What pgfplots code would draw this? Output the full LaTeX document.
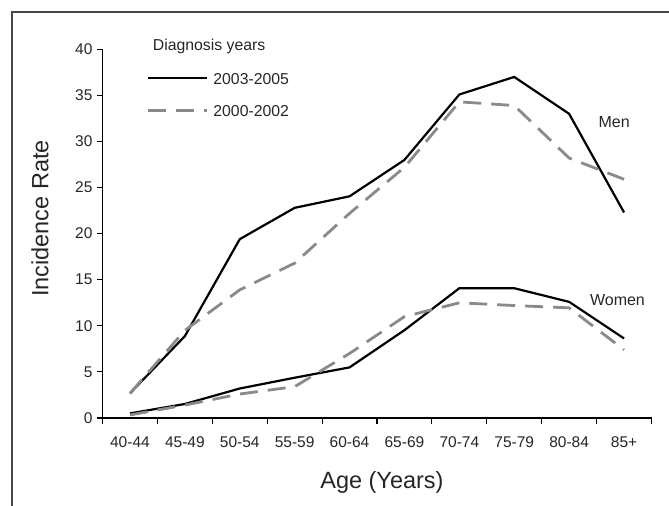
\documentclass[border=0pt]{standalone}
\usepackage{pgfplots}
\pgfplotsset{compat=1.18}
\usepackage{fontspec}
\setmainfont{Liberation Sans}
\definecolor{dashgray}{HTML}{8A8A8A}
\definecolor{framegray}{HTML}{474747}
\begin{document}
\begin{tikzpicture}
\useasboundingbox (-102.5bp,-88bp) rectangle (566.5bp,418bp);
\draw[line width=1.1bp, framegray] (-90.5bp,-88bp) -- (-90.5bp,406bp) -- (566.5bp,406bp);
\begin{axis}[
    scale only axis,
    width=549bp, height=368.7bp,
    xmin=0, xmax=10,
    ymin=0, ymax=40,
    clip=false,
    axis lines*=left,
    axis line style={line width=1.3bp},
    tick style={line width=1.1bp, black},
    tick align=outside,
    major tick length=5.5bp,
    xtick={0,...,10},
    x tick label as interval,
    xticklabels={40-44,45-49,50-54,55-59,60-64,65-69,70-74,75-79,80-84,85+},
    ytick={0,5,...,40},
    /pgf/number format/assume math mode=true,
    ticklabel style={font=\fontsize{15.5bp}{18bp}\selectfont, text=black!85},
    xticklabel style={yshift=-10bp},
    yticklabel style={xshift=-1bp},
    xlabel={Age (Years)},
    ylabel={Incidence Rate},
    label style={font=\fontsize{23.5bp}{28bp}\selectfont, text=black!85},
    xlabel style={at={(axis description cs:0.509,0)}, anchor=base, yshift=-70bp},
    ylabel style={at={(axis description cs:-0.0984,0.541)}, anchor=base},
    legend style={at={(rel axis cs:0.0805,0.9376)}, anchor=north west,
        draw=none, fill=none, inner sep=0pt, row sep=20.8bp, column sep=4.7bp,
        font=\fontsize{15.8bp}{18bp}\selectfont, text=black!85,
        nodes={inner sep=0pt, text height=11.5bp, text depth=0bp}},
    legend cell align=left,
    legend image code/.code={\draw[#1] (0bp,0bp) -- (59bp,0bp);},
]
\addplot[black, line width=2.2bp] coordinates {
    (0.5,2.67)(1.5,8.88)(2.5,19.4)(3.5,22.8)(4.5,24.05)(5.5,28.0)(6.5,35.1)(7.5,37.0)(8.5,33.0)(9.5,22.3)
};
\addlegendentry{2003-2005}
\addplot[dashgray, line width=2.8bp, dash pattern=on 18bp off 10bp] coordinates {
    (0.5,2.67)(1.5,9.5)(2.5,13.9)(3.5,16.8)(4.5,22.2)(5.5,27.2)(6.5,34.3)(7.5,33.9)(8.5,28.2)(9.5,25.9)
};
\addlegendentry{2000-2002}
\addplot[black, line width=2.2bp, forget plot] coordinates {
    (0.5,0.5)(1.5,1.52)(2.5,3.2)(3.5,4.37)(4.5,5.49)(5.5,9.53)(6.5,14.08)(7.5,14.08)(8.5,12.6)(9.5,8.63)
};
\addplot[dashgray, line width=2.8bp, dash pattern=on 18bp off 10bp, forget plot] coordinates {
    (0.5,0.33)(1.5,1.4)(2.5,2.6)(3.5,3.4)(4.5,7.0)(5.5,11.0)(6.5,12.5)(7.5,12.2)(8.5,11.95)(9.5,7.4)
};
\node[anchor=base west, font=\fontsize{15.8bp}{18bp}\selectfont, text=black!85, inner sep=0pt]
    at (rel axis cs:0.0914,0.996) {Diagnosis years};
\node[font=\fontsize{16bp}{18bp}\selectfont, text=black!85] at (rel axis cs:0.932,0.803) {Men};
\node[font=\fontsize{16bp}{18bp}\selectfont, text=black!85] at (rel axis cs:0.938,0.320) {Women};
\end{axis}
\end{tikzpicture}
\end{document}
